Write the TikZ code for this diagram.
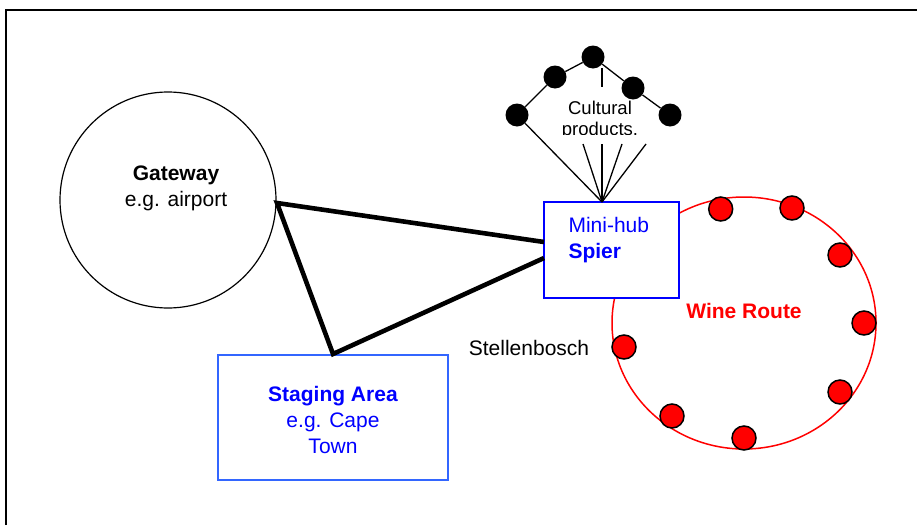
\documentclass[tikz,border=0pt]{standalone}
\usepackage{fontspec}
\setmainfont{Liberation Sans}
\usetikzlibrary{shapes.geometric}
\definecolor{hubblue}{RGB}{0,0,255}
\definecolor{stageblue}{RGB}{51,102,255}
\definecolor{wred}{RGB}{255,0,0}
\tikzset{
  big/.style={font=\fontsize{21}{26}\selectfont},
  bluebox/.style={draw=hubblue, fill=white, line width=1.5pt, rectangle, inner sep=0pt},
  reddot/.style={circle, draw=black, line width=1.5pt, fill=wred, minimum size=24pt, inner sep=0pt},
  blackdot/.style={circle, fill=black, minimum size=23pt, inner sep=0pt},
  thickline/.style={line width=4.6pt},
  thinline/.style={line width=1.3pt},
}
\begin{document}
\begin{tikzpicture}[x=1pt,y=-1pt]
\useasboundingbox (0,0) rectangle (917,525);
% frame
\draw[line width=1.5pt] (6,525) -- (6,10) -- (917,10);
% gateway
\node[ellipse, draw, line width=1.2pt, minimum width=216pt, minimum height=216pt] (gw) at (168,200) {};
\node[big, align=center] (gwt) at (176,188) {\textbf{Gateway}\\e.g. airport};
% staging
\node[bluebox, draw=stageblue, minimum width=230pt, minimum height=125pt] (st) at (333,417.5) {};
\node[big, align=center, text=hubblue] (stt) at (333,420) {\textbf{Staging Area}\\e.g. Cape\\Town};
% wine route
\node[ellipse, draw=wred, line width=1.5pt, minimum width=264pt, minimum height=252pt] (wine) at (744,323) {};
\node[big, text=wred] (winet) at (744,311) {\textbf{Wine Route}};
\node[big] (stel) at (529,348) {Stellenbosch};
\foreach \i/\p in {1/{(720.7,209)},2/{(792,208)},3/{(840,255)},4/{(864,323)},5/{(840,392)},6/{(744,438)},7/{(672,416)},8/{(624,347)}}
  \node[reddot] (w\i) at \p {};
% mini hub
\node[bluebox, minimum width=135pt, minimum height=96pt] (hub) at (611.5,250) {};
\node[big, align=left, text=hubblue, anchor=north west] (hubt) at (565,214) {Mini-hub\\\textbf{Spier}};
% triangle
\coordinate (g) at (277,203);
\coordinate (s) at (333,354);
\coordinate (h1) at (544,242);
\coordinate (h2) at (544,258);
\draw[thickline, line join=miter] (h1) -- (g) -- (s) -- (h2);
% cultural products
\coordinate (ht) at (602,202);
\node[blackdot] (c1) at (517,115) {};
\node[blackdot] (c2) at (555,77) {};
\node[blackdot] (c3) at (593,57) {};
\node[blackdot] (c4) at (633,88) {};
\node[blackdot] (c5) at (670,115) {};
\draw[thinline] (c1) -- (c2) -- (c3) -- (c4) -- (c5);
\coordinate (t1) at (602,68);
\coordinate (t2) at (602,87);
\draw[thinline] (t1) -- (t2);
\begin{scope}
\clip (540,92) rectangle (660,134);
\node[font=\fontsize{18.5}{21}\selectfont, align=center] (cp) at (600,120) {Cultural\\products.};
\end{scope}
\coordinate (b1) at (583,144);
\coordinate (b2) at (602,144);
\coordinate (b3) at (622,144);
\coordinate (b4) at (646,144);
\draw[thinline] (c1) -- (ht);
\foreach \b in {b1,b2,b3,b4} \draw[thinline] (\b) -- (ht);
\end{tikzpicture}
\end{document}
